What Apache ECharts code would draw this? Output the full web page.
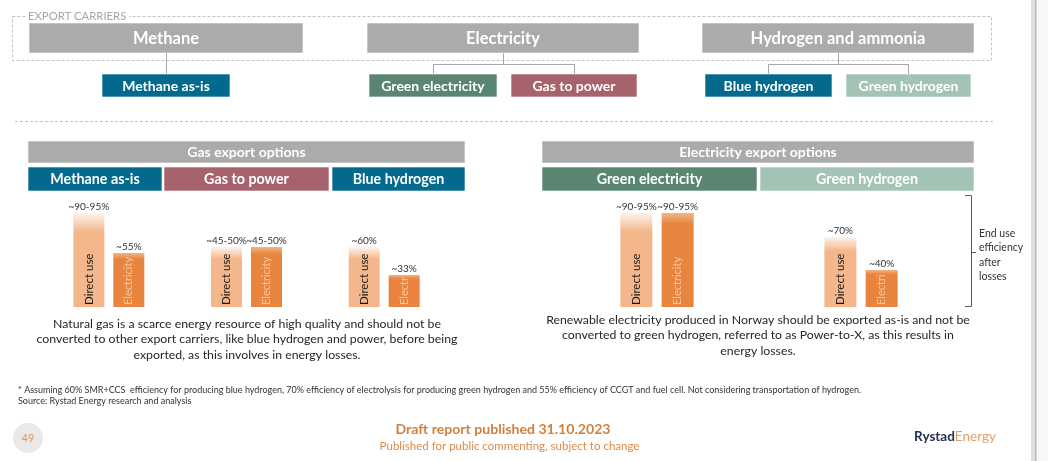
<!DOCTYPE html>
<html><head><meta charset="utf-8">
<script src="https://cdn.jsdelivr.net/npm/echarts@6/dist/echarts.min.js"></script>
<style>html,body{margin:0;padding:0;background:#fff}#c{width:1048px;height:461px}</style>
</head><body><div id="c"></div>
<script>
// ---------------- data ----------------
const gasCategories = ['Methane as-is', 'Gas to power', 'Blue hydrogen'];
const gasDirectUse = [94, 60, 60];
const gasElectricity = [54, 60, 32];
const gasDirectLabels = ['~90-95%', '~45-50%', '~60%'];
const gasElectricityLabels = ['~55%', '~45-50%', '~33%'];

const elecCategories = ['Green electricity', 'Green hydrogen'];
const elecDirectUse = [94, 70];
const elecElectricity = [94, 37];
const elecDirectLabels = ['~90-95%', '~70%'];
const elecElectricityLabels = ['~90-95%', '~40%'];

const barNames = ['Direct use', 'Electricity'];

// ---------------- style ----------------
const FONT = 'Lato';
const GRAY = '#ababab';
const BLUE = '#036a8e';
const RED = '#a6636b';
const DGREEN = '#5a8671';
const LGREEN = '#a3c4b4';
const PLOT_H = 100, Y_MAX = 100;
const PPU = PLOT_H / Y_MAX;

const chart = echarts.init(document.getElementById('c'), null, {renderer: 'canvas'});

function grad(top, main, stop) {
  return {type: 'linear', x: 0, y: 0, x2: 0, y2: 1, colorStops: [
    {offset: 0, color: top}, {offset: stop, color: main}, {offset: 1, color: main}
  ]};
}

function innerLabel(name, color, v, size) {
  return {
    show: true, position: 'insideBottom', rotate: 90, align: 'left', verticalAlign: 'middle',
    distance: 2, color: color, fontSize: size, fontFamily: FONT, formatter: name,
    width: Math.max(4, v * PPU - 3), overflow: 'truncate', ellipsis: ''
  };
}

function makeSeries(idx, cats, direct, elec, dLbl, eLbl, bw) {
  const sd = 'd' + idx, se = 'e' + idx;
  const common = {type: 'bar', xAxisIndex: idx, yAxisIndex: idx, barWidth: bw, barGap: '29%', silent: true, animation: false};
  const topLabel = (arr) => ({show: true, position: 'top', distance: 1, color: '#333', fontSize: 10, fontFamily: FONT,
    formatter: p => arr[p.dataIndex]});
  return [
    Object.assign({}, common, {name: barNames[0], stack: sd,
      data: direct.map(v => ({value: v, label: innerLabel(barNames[0], '#1a1a1a', v, 11.5)})),
      itemStyle: {color: grad('#fdf4ed', '#f4b78b', 0.2)}}),
    Object.assign({}, common, {name: barNames[1], stack: se,
      data: elec.map(v => ({value: v, label: innerLabel(barNames[1], 'rgba(255,255,255,0.55)', v, 11)})),
      itemStyle: {color: grad('#f3b486', '#e8843d', 0.12)}}),
    Object.assign({}, common, {name: barNames[0] + ' label', stack: sd, data: direct.map(() => 0),
      itemStyle: {color: 'rgba(0,0,0,0)'}, label: topLabel(dLbl)}),
    Object.assign({}, common, {name: barNames[1] + ' label', stack: se, data: elec.map(() => 0),
      itemStyle: {color: 'rgba(0,0,0,0)'}, label: topLabel(eLbl)})
  ];
}

function txt(x, y, text, font, fill, align) {
  return {type: 'text', x: x, y: y, silent: true, style: {text: text, font: font, fill: fill,
    align: align || 'center', textAlign: align || 'center', verticalAlign: 'middle', textVerticalAlign: 'middle'}};
}
function box(x, y, w, h, fill, text, font) {
  return [
    {type: 'rect', silent: true, shape: {x: x, y: y, width: w, height: h}, style: {fill: fill, stroke: 'rgba(255,255,255,0.6)', lineWidth: 1}},
    txt(x + w / 2, y + h / 2 + 0.5, text, font, '#fff')
  ];
}
function line(pts, color, dash) {
  return {type: 'polyline', silent: true, shape: {points: pts}, style: {stroke: color || '#a6a6a6', lineWidth: 1, fill: null, lineDash: dash || null}};
}

const hdrFont = 'bold 16.5px ' + FONT;
const subFont = 'bold 14px ' + FONT;
const secFont = 'bold 14px ' + FONT;
const catFont = 'bold 14.3px ' + FONT;

let g = [];
// Export carriers dashed frame
g.push({type: 'rect', silent: true, shape: {x: 12.5, y: 16.5, width: 979, height: 44}, style: {fill: null, stroke: '#c4c4c4', lineWidth: 1, lineDash: [3, 2]}});
g.push({type: 'rect', silent: true, shape: {x: 27, y: 10, width: 102, height: 12}, style: {fill: '#fff'}});
g.push(txt(28, 16, 'EXPORT CARRIERS', '11.3px ' + FONT, '#a6a6a6', 'left'));
g = g.concat(box(29, 23, 274, 30, GRAY, 'Methane', hdrFont));
g = g.concat(box(367, 23, 272, 30, GRAY, 'Electricity', hdrFont));
g = g.concat(box(702, 23, 272, 30, GRAY, 'Hydrogen and ammonia', hdrFont));
// connectors
g.push(line([[166.5, 53], [166.5, 74]]));
g.push(line([[503.5, 53], [503.5, 64.5]]));
g.push(line([[433.5, 74], [433.5, 64.5], [574.5, 64.5], [574.5, 74]]));
g.push(line([[838.5, 53], [838.5, 64.5]]));
g.push(line([[768.5, 74], [768.5, 64.5], [908.5, 64.5], [908.5, 74]]));
// carriers
g = g.concat(box(102, 74, 128, 23, BLUE, 'Methane as-is', subFont));
g = g.concat(box(369, 74, 128, 23, DGREEN, 'Green electricity', subFont));
g = g.concat(box(511, 74, 126, 23, RED, 'Gas to power', subFont));
g = g.concat(box(705, 74, 127, 23, BLUE, 'Blue hydrogen', subFont));
g = g.concat(box(846, 74, 125, 23, LGREEN, 'Green hydrogen', subFont));
// divider
g.push(line([[15, 121.5], [993, 121.5]], '#c4c4c4', [3, 2]));
// gas section headers
g = g.concat(box(28, 141, 437, 22, GRAY, 'Gas export options', secFont));
g = g.concat(box(28, 167, 134, 24, BLUE, gasCategories[0], catFont));
g = g.concat(box(164, 167, 165, 24, RED, gasCategories[1], catFont));
g = g.concat(box(332, 167, 133, 24, BLUE, gasCategories[2], catFont));
// electricity section headers
g = g.concat(box(542, 141, 432, 22, GRAY, 'Electricity export options', secFont));
g = g.concat(box(542, 167, 215, 24, DGREEN, elecCategories[0], catFont));
g = g.concat(box(760, 167, 214, 24, LGREEN, elecCategories[1], catFont));
// bracket
g.push(line([[965, 195.5], [971.5, 195.5], [971.5, 252.5], [976, 252.5], [971.5, 252.5], [971.5, 306.5], [965, 306.5]], '#595959'));
g.push({type: 'text', x: 979, y: 255, silent: true, style: {text: 'End use\nefficiency\nafter\nlosses', font: '10.5px ' + FONT, fill: '#333', lineHeight: 14.3, align: 'left', verticalAlign: 'middle', textAlign: 'left', textVerticalAlign: 'middle'}});
// Paragraphs
const pFont = '12.3px ' + FONT;
g.push({type: 'text', x: 247, y: 316, silent: true, style: {text: 'Natural gas is a scarce energy resource of high quality and should not be\nconverted to other export carriers, like blue hydrogen and power, before being\nexported, as this involves in energy losses.', font: pFont, fill: '#262626', lineHeight: 15.5, align: 'center', textAlign: 'center', verticalAlign: 'top', textVerticalAlign: 'top'}});
g.push({type: 'text', x: 758, y: 312, silent: true, style: {text: 'Renewable electricity produced in Norway should be exported as-is and not be\nconverted to green hydrogen, referred to as Power-to-X, as this results in\nenergy losses.', font: pFont, fill: '#262626', lineHeight: 15.5, align: 'center', textAlign: 'center', verticalAlign: 'top', textVerticalAlign: 'top'}});
// footnote
g.push(txt(18, 390, '* Assuming 60% SMR+CCS  efficiency for producing blue hydrogen, 70% efficiency of electrolysis for producing green hydrogen and 55% efficiency of CCGT and fuel cell. Not considering transportation of hydrogen.', '9px ' + FONT, '#333', 'left'));
g.push(txt(18, 401, 'Source: Rystad Energy research and analysis', '9px ' + FONT, '#333', 'left'));
// footer
g.push(txt(503, 429, 'Draft report published 31.10.2023', 'bold 14.1px ' + FONT, '#d2803c'));
g.push(txt(509.5, 446, 'Published for public commenting, subject to change', '11.5px ' + FONT, '#e08a47'));
g.push({type: 'circle', silent: true, shape: {cx: 28, cy: 438, r: 15}, style: {fill: '#e9e9e9'}});
g.push(txt(28, 438, '49', '11px ' + FONT, '#e39a5c'));
g.push({type: 'text', x: 914, y: 437, silent: true, style: {text: '{a|Rystad}{b|Energy}', align: 'left', textAlign: 'left', verticalAlign: 'middle', textVerticalAlign: 'middle',
  rich: {a: {fontFamily: FONT, fontWeight: 'bold', fontSize: 13.5, fill: '#25324d', color: '#25324d'}, b: {fontFamily: FONT, fontSize: 13.5, fill: '#e5a06a', color: '#e5a06a'}}}});
// slide edge
g.push({type: 'rect', silent: true, shape: {x: 1031, y: 0, width: 17, height: 461}, style: {fill: '#f7f7f7'}});
g.push({type: 'rect', silent: true, shape: {x: 1031, y: 0, width: 4, height: 461}, style: {fill: '#dedede'}});
g.push({type: 'rect', silent: true, shape: {x: 1035, y: 0, width: 1.5, height: 461}, style: {fill: '#b3bcc6'}});

const option = {
  backgroundColor: '#fff',
  animation: false,
  textStyle: {fontFamily: FONT},
  grid: [
    {left: 40, width: 413, top: 307 - PLOT_H, height: PLOT_H},
    {left: 555, width: 408, top: 307 - PLOT_H, height: PLOT_H}
  ],
  xAxis: [
    {type: 'category', gridIndex: 0, data: gasCategories, show: false},
    {type: 'category', gridIndex: 1, data: elecCategories, show: false}
  ],
  yAxis: [
    {type: 'value', gridIndex: 0, min: 0, max: Y_MAX, show: false},
    {type: 'value', gridIndex: 1, min: 0, max: Y_MAX, show: false}
  ],
  series: [].concat(
    makeSeries(0, gasCategories, gasDirectUse, gasElectricity, gasDirectLabels, gasElectricityLabels, 31),
    makeSeries(1, elecCategories, elecDirectUse, elecElectricity, elecDirectLabels, elecElectricityLabels, 32)
  ),
  graphic: {elements: g}
};
chart.setOption(option);
</script></body></html>
